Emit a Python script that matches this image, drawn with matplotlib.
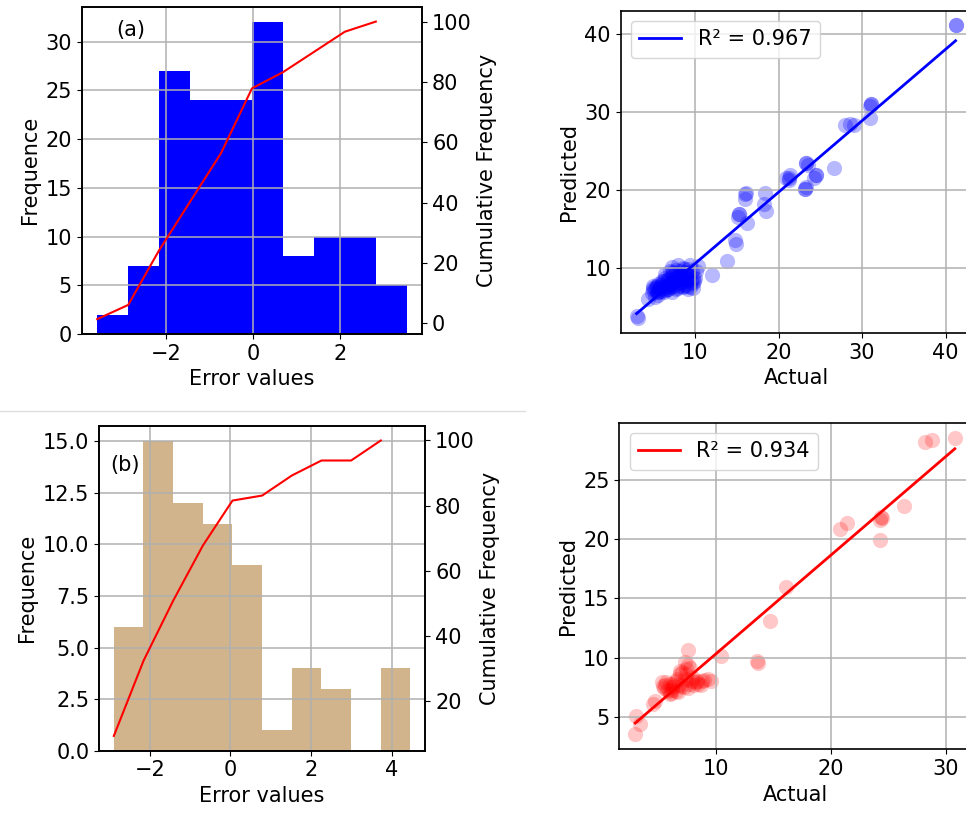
import numpy as np
import matplotlib.pyplot as plt
from matplotlib.lines import Line2D

plt.rcParams['font.size'] = 15
plt.rcParams['axes.linewidth'] = 1.2
plt.rcParams['grid.linewidth'] = 1.1

# Error histograms (bin edges and counts)
edges_a = np.linspace(-3.59, 3.54, 11)
counts_a = [2, 7, 27, 24, 24, 32, 8, 10, 10, 5]
edges_b = np.linspace(-2.89, 4.47, 11)
counts_b = [6, 15, 12, 11, 9, 1, 4, 3, 0, 4]

# Actual vs predicted, first model
actual_1 = [41.2, 41.2, 31.1, 31.1, 30.9, 31.0, 28.0, 28.5, 29.0, 26.6,
            23.3, 23.3, 23.5, 24.5, 24.5, 24.3, 23.3, 23.2, 23.2, 20.9,
            21.4, 21.2, 21.2, 18.4, 18.3, 18.5, 16.0, 16.1, 16.0, 15.3,
            15.3, 15.2, 16.2, 14.8, 14.9, 13.8, 12.0, 10.4, 10.0, 9.8,
            10.1, 3.2, 3.0, 4.4, 5.2, 4.9, 5.3, 5.6, 5.0, 5.6,
            6.0, 6.8, 7.6, 8.4, 9.2, 9.8, 9.2, 6.4, 7.2, 8.0,
            8.8, 6.8, 7.6, 6.0, 5.4, 7.2, 8.0, 9.4, 7.0, 7.8,
            8.6, 6.4, 5.8, 7.4, 8.2, 9.0, 6.6, 8.8, 9.4, 7.2,
            4.8, 5.0, 5.2, 5.4, 5.5, 5.7, 5.9, 6.1, 6.2, 6.3,
            6.5, 6.6, 6.7, 6.9, 7.0, 7.1, 7.3, 7.4, 7.5, 7.6,
            7.7, 7.8, 7.9, 8.0, 8.1, 8.2, 8.3, 8.4, 8.5, 8.6,
            8.7, 8.8, 8.9, 9.0, 9.1, 9.3, 9.5, 9.6, 9.7, 9.9,
            6.0, 6.8, 7.2, 7.7, 8.3, 5.6, 6.4, 7.0, 8.6, 9.2]
pred_1 = [41.1, 41.1, 31.0, 31.0, 30.8, 29.2, 28.3, 28.5, 28.4, 22.9,
          23.5, 23.5, 23.2, 21.9, 21.9, 21.5, 20.4, 20.2, 20.2, 21.6,
          21.9, 21.3, 21.6, 19.6, 18.2, 17.4, 19.5, 19.6, 18.9, 16.9,
          16.9, 16.6, 15.8, 13.6, 13.1, 11.0, 9.2, 10.3, 8.8, 8.1,
          9.6, 3.6, 3.9, 6.1, 6.3, 7.5, 7.6, 7.0, 7.8, 8.0,
          7.3, 7.6, 8.0, 8.4, 8.6, 8.8, 7.3, 9.3, 9.5, 9.3,
          9.5, 8.6, 8.8, 8.4, 7.1, 10.2, 10.4, 10.4, 7.9, 7.5,
          7.8, 7.2, 7.6, 9.0, 8.9, 9.1, 8.1, 7.9, 7.6, 7.0,
          6.8, 7.2, 7.4, 7.8, 7.0, 7.5, 7.9, 7.6, 8.2, 7.0,
          7.7, 8.5, 7.4, 8.0, 8.8, 7.6, 8.3, 9.4, 7.8, 8.6,
          9.8, 8.2, 9.0, 7.7, 8.6, 9.6, 8.1, 9.2, 7.6, 8.7,
          9.9, 8.3, 9.4, 7.8, 8.5, 9.2, 8.2, 9.7, 7.5, 8.4,
          7.1, 7.3, 8.4, 7.4, 9.0, 6.6, 8.8, 9.6, 10.0, 9.9]
r2_1 = '0.967'

# Actual vs predicted, second model
actual_2 = [30.8, 28.2, 28.8, 26.4, 24.4, 24.3, 24.5, 24.3, 20.8, 21.4,
            16.1, 14.7, 13.6, 13.7, 10.5, 9.6, 9.3, 7.6, 3.1, 3.4,
            3.0, 4.7, 4.5, 5.6, 6.2, 5.3, 6.5, 6.9, 7.6, 7.4,
            7.3, 7.9, 8.3, 8.8, 7.0, 5.8, 6.0, 7.6, 8.1, 7.8,
            7.3, 6.6, 5.5, 6.3, 8.5, 7.1, 6.1, 5.4, 5.7, 5.9,
            6.0, 6.2, 6.4, 6.5, 6.7, 6.8, 7.2, 7.5, 7.7, 8.0,
            8.4, 8.7, 9.0, 7.4, 6.9]
pred_2 = [28.6, 28.2, 28.4, 22.8, 21.9, 21.6, 21.8, 19.9, 20.9, 21.4,
          16.0, 13.1, 9.7, 9.5, 10.1, 8.0, 8.2, 10.6, 5.1, 4.4,
          3.5, 6.3, 6.1, 7.7, 7.5, 7.9, 7.2, 8.6, 9.4, 9.0,
          8.2, 8.0, 7.9, 8.0, 7.6, 7.3, 6.9, 7.4, 7.7, 9.1,
          9.6, 8.2, 7.4, 7.8, 7.8, 8.8, 7.0, 7.6, 7.9, 7.2,
          7.8, 7.3, 7.6, 8.0, 7.1, 7.7, 7.5, 8.1, 7.8, 8.3,
          8.0, 7.7, 8.1, 8.6, 8.9]
r2_2 = '0.934'

W, H = 966, 815
fig = plt.figure(figsize=(W / 100, H / 100), dpi=100)


def px_axes(left, top, right, bottom):
    return fig.add_axes([left / W, 1 - bottom / H, (right - left) / W, (bottom - top) / H])


def error_hist(ax, edges, counts, color, tag, tag_pos):
    ax.hist(edges[:-1], bins=edges, weights=counts, color=color)
    ax.set_xlabel('Error values')
    ax.set_ylabel('Frequence')
    ax.grid(True)
    ax.text(tag_pos[0], tag_pos[1], tag, transform=ax.transAxes, va='center', ha='left')
    cum = np.cumsum(counts) / np.sum(counts) * 100
    ax2 = ax.twinx()
    ax2.plot(edges[:-1], cum, color='red', lw=1.5)
    ax2.set_ylabel('Cumulative Frequency')


def fit_plot(ax, x, y, color, alpha, r2):
    x = np.array(x)
    y = np.array(y)
    ax.scatter(x, y, s=120, color=color, alpha=alpha, linewidths=0)
    k, b = np.polyfit(x, y, 1)
    xs = np.array([x.min(), x.max()])
    ax.plot(xs, k * xs + b, color=color, lw=2, label=f'R² = {r2}')
    ax.set_xlabel('Actual')
    ax.set_ylabel('Predicted')
    ax.grid(True)
    ax.legend(loc='upper left')


ax_a = px_axes(81.7, 6.7, 422.3, 334)
error_hist(ax_a, edges_a, counts_a, 'blue', '(a)', (0.1, 0.93))

ax_b = px_axes(99, 425.7, 425.3, 750.7)
error_hist(ax_b, edges_b, counts_b, 'tan', '(b)', (0.035, 0.88))

ax_c = px_axes(620.7, 10.7, 971.5, 333)
fit_plot(ax_c, actual_1, pred_1, 'blue', 0.28, r2_1)

ax_d = px_axes(619.3, 422.7, 970.8, 749.3)
fit_plot(ax_d, actual_2, pred_2, 'red', 0.22, r2_2)

fig.add_artist(Line2D([0, 525 / W], [1 - 411 / H, 1 - 411 / H],
                      transform=fig.transFigure, color='#dddddd', lw=1))

fig.savefig('out.png', dpi=100)
